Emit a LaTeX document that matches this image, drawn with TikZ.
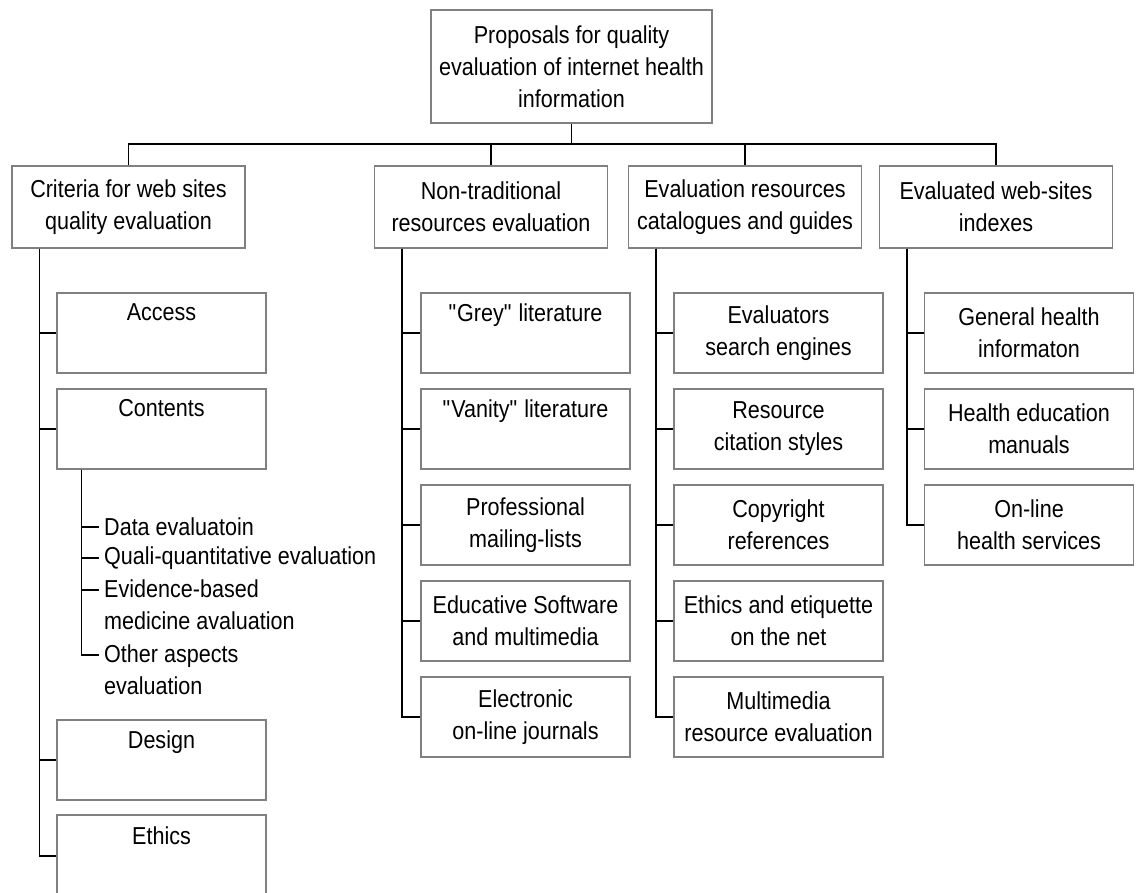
\documentclass[tikz,border=0pt]{standalone}
\usepackage{fontspec}
\setmainfont[FakeStretch=0.88]{Liberation Sans}
\newcommand{\boxfont}{\fontsize{24.5}{32}\selectfont}
\definecolor{boxgray}{RGB}{128,128,128}
\begin{document}
\begin{tikzpicture}[x=1pt,y=-1pt,
  box/.style={draw=boxgray, line width=1.4pt, fill=white, inner sep=0pt, align=center, font=\boxfont},
  lvone/.style={box, minimum width=233, minimum height=82},
  lvtwo/.style={box, minimum width=209, minimum height=80},
  conn/.style={draw=black, line width=1.4pt},
  item/.style={anchor=west, inner xsep=5pt, inner ysep=0pt, align=left, font=\boxfont}]
\useasboundingbox[fill=white] (0,0) rectangle (1140,892);

% root
\node[box, minimum width=281, minimum height=113] (top) at (571.5,66.5)
  {Proposals for quality\\evaluation of internet health\\information};

% level one
\node[lvone] (A) at (128.5,207) {Criteria for web sites\\quality evaluation};
\node[lvone] (B) at (491,207) {Non-traditional\\resources evaluation};
\node[lvone] (C) at (745,207) {Evaluation resources\\catalogues and guides};
\node[lvone] (D) at (996,207) {Evaluated web-sites\\indexes};

\coordinate (bus) at (0,144);
\draw[conn] (A.north) -- (A.north |- bus) -- (D.north |- bus) -- (D.north);
\draw[conn] (top.south) -- (top.south |- bus);
\draw[conn] (B.north) -- (B.north |- bus);
\draw[conn] (C.north) -- (C.north |- bus);

% column A
\node[lvtwo] (access) at (161.5,333) {Access\\\strut};
\node[lvtwo] (contents) at (161.5,429) {Contents\\\strut};
\node[lvtwo] (design) at (161.5,760) {Design\\\strut};
\node[lvtwo, minimum height=82] (ethics) at (161.5,856) {Ethics\\\strut};

\node[item] (d1) at (99,527) {Data evaluatoin};
\node[item] (d2) at (99,558) {Quali-quantitative evaluation};
\node[item] (d3) at (99,605) {Evidence-based\\medicine avaluation};
\node[item] (d4) at (99,670) {Other aspects\\evaluation};

% column B
\node[lvtwo] (grey) at (525.5,333) {\textquotedbl Grey\textquotedbl{} literature\\\strut};
\node[lvtwo] (vanity) at (525.5,429) {\textquotedbl Vanity\textquotedbl{} literature\\\strut};
\node[lvtwo] (prof) at (525.5,525) {Professional\\mailing-lists};
\node[lvtwo] (educ) at (525.5,621) {Educative Software\\and multimedia};
\node[lvtwo] (elec) at (525.5,717) {Electronic\\on-line journals};

% column C
\node[lvtwo] (evals) at (778.5,333) {Evaluators\\search engines};
\node[lvtwo] (cite) at (778.5,429) {Resource\\citation styles};
\node[lvtwo] (copy) at (778.5,525) {Copyright\\references};
\node[lvtwo] (etiq) at (778.5,621) {Ethics and etiquette\\on the net};
\node[lvtwo] (multi) at (778.5,717) {Multimedia\\resource evaluation};

% column D
\node[lvtwo] (gen) at (1029,333) {General health\\informaton};
\node[lvtwo] (hedu) at (1029,429) {Health education\\manuals};
\node[lvtwo] (onl) at (1029,525) {On-line\\health services};

% trunks
\coordinate (ta) at ([xshift=28pt]A.south west);
\coordinate (tb) at ([xshift=28pt]B.south west);
\coordinate (tc) at ([xshift=28pt]C.south west);
\coordinate (td) at ([xshift=28pt]D.south west);

\foreach \n in {access,contents,design,ethics} \draw[conn] (ta) |- (\n.west);
\foreach \n in {grey,vanity,prof,educ,elec} \draw[conn] (tb) |- (\n.west);
\foreach \n in {evals,cite,copy,etiq,multi} \draw[conn] (tc) |- (\n.west);
\foreach \n in {gen,hedu,onl} \draw[conn] (td) |- (\n.west);

% contents sub-list
\coordinate (cs) at ([xshift=25pt]contents.south west);
\draw[conn] (cs) |- (d1.west);
\draw[conn] (cs) |- (d2.west);
\draw[conn] (cs) |- ([yshift=15pt]d3.west);
\draw[conn] (cs) |- ([yshift=15pt]d4.west);
\end{tikzpicture}
\end{document}
